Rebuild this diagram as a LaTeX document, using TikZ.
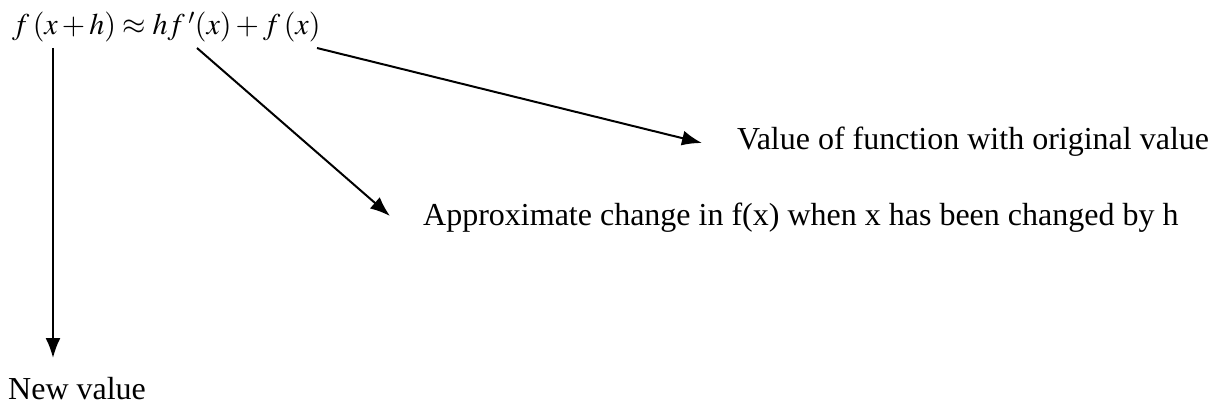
\documentclass[tikz,border=0pt]{standalone}
\usepackage{mathptmx}
\usepackage{fontspec}
\setmainfont{Liberation Serif}
\usetikzlibrary{arrows.meta}

\begin{document}
\begin{tikzpicture}[every node/.style={inner sep=0pt,black,font=\fontsize{32}{38}\selectfont},
	every edge/.style={
	draw,line width=2pt, -{Latex[length=20pt,width=15pt]},color=black
        }
]%
\useasboundingbox (0pt,0pt) rectangle (1216pt,-412pt);
\node (fx) [anchor=base west, font=\fontsize{30}{36}\selectfont] at (12.0pt, -35.0pt) {$f\mkern2mu(x+h)\approx hf\mkern2mu'(x)+f\mkern2mu(x)$};
\node (orig) [anchor=base west] at (737.0pt, -149.0pt) {Value of function with original value};
\node (approx) [anchor=base west] at (423.0pt, -225.0pt) {Approximate change in f(x) when x has been changed by h};
\node (new) [anchor=base west] at (8.0pt, -399.0pt) {New value};
\coordinate (s1) at (53.0pt, -48.0pt);
\coordinate (e1) at (53.0pt, -358.0pt);
\coordinate (s2) at (197.0pt, -48.0pt);
\coordinate (e2) at (390.0pt, -216.0pt);
\coordinate (s3) at (317.0pt, -48.0pt);
\coordinate (e3) at (702.0pt, -143.0pt);
\path 
(s1) edge (e1)
(s2) edge (e2)
(s3) edge (e3);
\end{tikzpicture}
\end{document}
